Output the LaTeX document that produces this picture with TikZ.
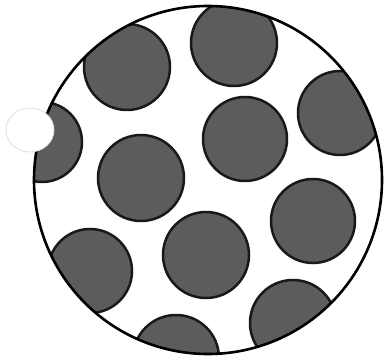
\documentclass[tikz,border=0pt]{standalone}
\usepackage{tikz}

\tikzset{
  dish/.style={draw=black,line width=2.6pt},
  grain/.style={fill=black!64,draw=black!90,line width=2.5pt},
  glare/.style={fill=white,draw=black!12,line width=0.8pt}
}

\begin{document}
\begin{tikzpicture}[x=1pt,y=-1pt]
  \useasboundingbox (0,0) rectangle (386,358);
  \coordinate (centre) at (208,180);
  % grains, cut by the rim of the dish
  \begin{scope}
    \clip (centre) circle [radius=174];
    \foreach \gx/\gy/\gr in {127/67/43, 234/43/43, 340/113/42, 42/142/40,
                             141/178/43, 245/139/42, 313/221/42, 206/255/43,
                             90/271/42, 176/358/43, 293/323/43}
      \draw[grain] (\gx,\gy) circle [radius=\gr];
  \end{scope}
  \draw[dish] (centre) circle [radius=174];
  % bright spot at the left rim
  \draw[glare] (30,130) ellipse [x radius=24, y radius=22];
\end{tikzpicture}
\end{document}
